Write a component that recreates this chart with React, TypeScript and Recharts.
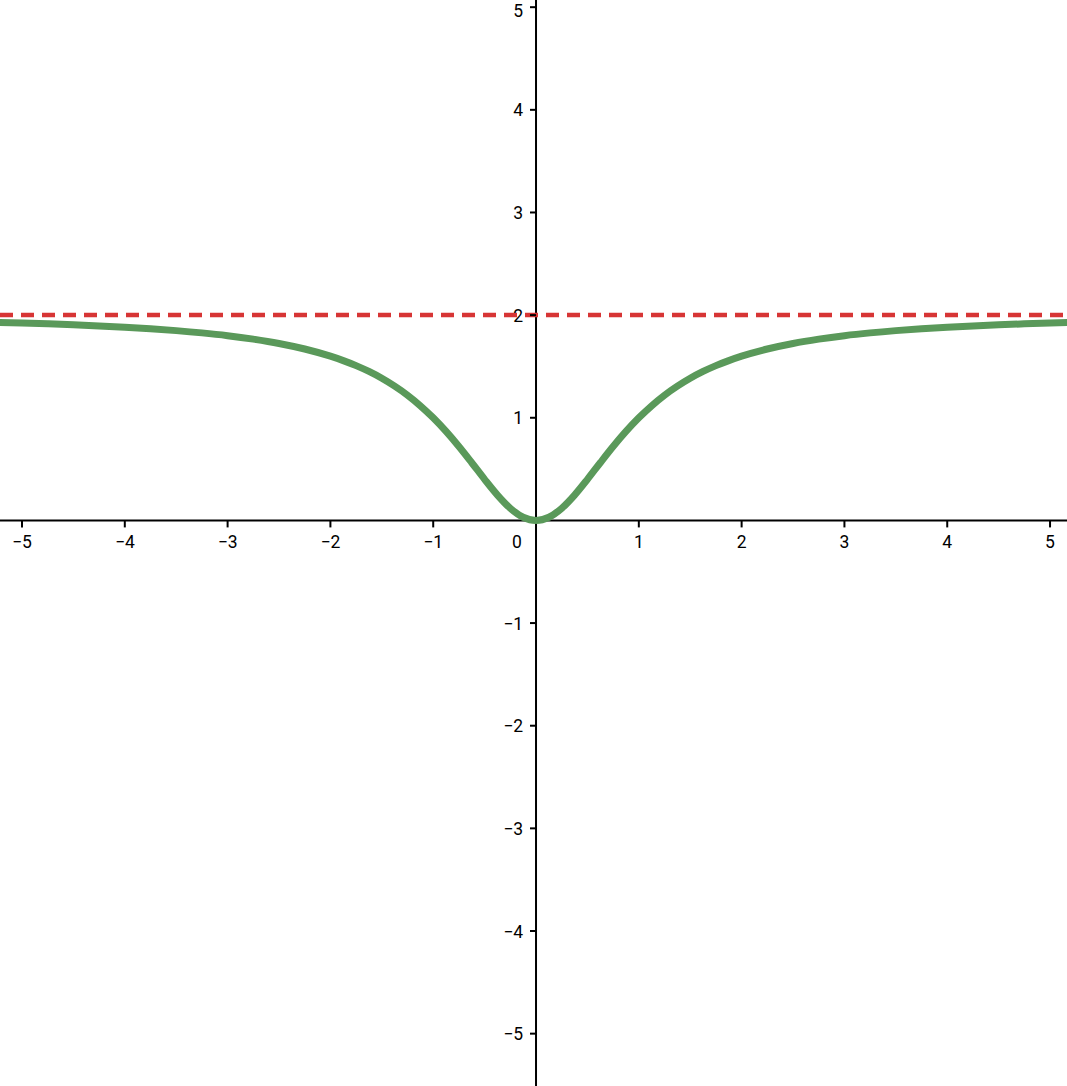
import { LineChart, Line, XAxis, YAxis, ReferenceLine, ReferenceDot } from 'recharts';

// values (symmetric about x = 0)
const xValues = [
  -5.25, -5, -4.75, -4.5, -4.25, -4, -3.75, -3.5, -3.25, -3, -2.75, -2.5, -2.25, -2,
  -1.875, -1.75, -1.625, -1.5, -1.375, -1.25, -1.125, -1, -0.875, -0.75, -0.625, -0.5,
  -0.375, -0.25, -0.125, 0, 0.125, 0.25, 0.375, 0.5, 0.625, 0.75, 0.875, 1, 1.125, 1.25,
  1.375, 1.5, 1.625, 1.75, 1.875, 2, 2.25, 2.5, 2.75, 3, 3.25, 3.5, 3.75, 4, 4.25, 4.5,
  4.75, 5, 5.25,
];
const curveValues = [
  1.93, 1.923, 1.915, 1.906, 1.895, 1.882, 1.867, 1.849, 1.827, 1.8, 1.766, 1.724, 1.67, 1.6,
  1.557, 1.508, 1.451, 1.385, 1.308, 1.22, 1.117, 1.0, 0.867, 0.72, 0.562, 0.4,
  0.247, 0.118, 0.031, 0, 0.031, 0.118, 0.247, 0.4, 0.562, 0.72, 0.867, 1.0, 1.117, 1.22,
  1.308, 1.385, 1.451, 1.508, 1.557, 1.6, 1.67, 1.724, 1.766, 1.8, 1.827, 1.849, 1.867, 1.882, 1.895, 1.906,
  1.915, 1.923, 1.93,
];
const asymptote = 2;
const xTicks = [-5, -4, -3, -2, -1, 1, 2, 3, 4, 5];
const yTicks = [-5, -4, -3, -2, -1, 1, 2, 3, 4, 5];

const data = xValues.map((x, i) => ({ x, y: curveValues[i] }));

const FONT = 'Roboto, sans-serif';
const FONT_SIZE = 17.5;
const fmt = (v: number) => (v < 0 ? `\u2212${Math.abs(v)}` : `${v}`);

const XTick = (label: string, dx = 0) => (props: any) => {
  const { cx, cy } = props;
  return (
    <g>
      {dx === 0 && <line x1={cx} y1={cy} x2={cx} y2={cy + 7} stroke="#000" strokeWidth={2} />}
      <text x={cx + dx} y={cy + 28} textAnchor="middle" fontSize={FONT_SIZE} fontFamily={FONT} fill="#000">
        {label}
      </text>
    </g>
  );
};

const YTick = (label: string) => (props: any) => {
  const { cx, cy } = props;
  // keep the top label inside the chart, like the reference does
  const baseline = Math.max(cy + 6.5, 17);
  return (
    <g>
      <line x1={cx - 6} y1={cy} x2={cx} y2={cy} stroke="#000" strokeWidth={2} />
      <text x={cx - 13} y={baseline} textAnchor="end" fontSize={FONT_SIZE} fontFamily={FONT} fill="#000">
        {label}
      </text>
    </g>
  );
};

export default function App() {
  return (
    <div>
      <style>{'body{margin:0}'}</style>
      <LineChart width={1067} height={1086} data={data} margin={{ top: 0, right: 0, bottom: 0, left: 0 }}>
        <XAxis type="number" dataKey="x" domain={[-5.214, 5.165]} allowDataOverflow hide />
        <YAxis type="number" domain={[-5.51, 5.07]} allowDataOverflow hide />
        <ReferenceLine x={0} stroke="#000" strokeWidth={2} />
        <ReferenceLine y={0} stroke="#000" strokeWidth={2} />
        <ReferenceLine y={asymptote} stroke="#d73535" strokeWidth={4.5} strokeDasharray="13 8" />
        {xTicks.map((t) => (
          <ReferenceDot key={`x${t}`} x={t} y={0} r={0} shape={XTick(fmt(t))} />
        ))}
        <ReferenceDot x={0} y={0} r={0} shape={XTick('0', -19)} />
        {yTicks.map((t) => (
          <ReferenceDot key={`y${t}`} x={0} y={t} r={0} shape={YTick(fmt(t))} />
        ))}
        <Line
          type="monotone"
          dataKey="y"
          stroke="#5a995a"
          strokeWidth={7}
          dot={false}
          isAnimationActive={false}
        />
      </LineChart>
    </div>
  );
}
